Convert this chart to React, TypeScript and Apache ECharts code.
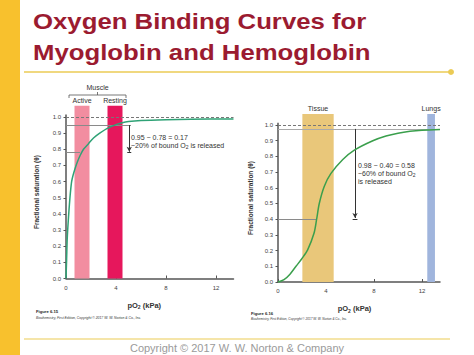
import React, { useEffect, useRef } from "react";
import * as echarts from "echarts";

// ---- data ----
const xTickValues = [0, 4, 8, 12];
const yTickValues = [0, 0.1, 0.2, 0.3, 0.4, 0.5, 0.6, 0.7, 0.8, 0.9, 1.0];

const myoglobinCurve: [number, number][] = [
  [0, 0], [0.05, 0.12], [0.1, 0.25], [0.2, 0.38], [0.27, 0.455], [0.35, 0.53],
  [0.45, 0.6], [0.55, 0.635], [0.72, 0.68], [0.9, 0.72], [1.12, 0.76], [1.4, 0.8],
  [1.8, 0.835], [2.2, 0.87], [2.7, 0.9], [3.3, 0.93], [4, 0.953], [4.5, 0.965],
  [5, 0.972], [6, 0.978], [8, 0.983], [10, 0.986], [13.4, 0.988],
];

const hemoglobinCurve: [number, number][] = [
  [0, 0], [0.5, 0.015], [1, 0.05], [1.5, 0.1], [2, 0.15], [2.47, 0.205], [3, 0.31],
  [3.22, 0.4], [3.44, 0.5], [3.86, 0.61], [4.4, 0.69], [5.4, 0.78], [6.36, 0.84],
  [7.9, 0.9], [9, 0.93], [10, 0.948], [11, 0.96], [12, 0.967], [13.5, 0.972],
];

const activeRange = [0.68, 1.88];
const restingRange = [3.32, 4.52];
const tissueRange = [2.03, 4.64];
const lungsRange = [12.44, 13.08];
const barTop = 1.07;

const myoHigh = 0.95;
const myoLow = 0.78;
const myoArrowX = 5.06;
const myoLowX = 1.12;

const hbHigh = 0.975;
const hbLow = 0.4;
const hbArrowX = 6.42;
const hbLowX = 3.22;

const axisColor = "#555";
const refColor = "#8a8a8a";
const FONT = "Liberation Sans";

function App() {
  const ref = useRef<HTMLDivElement>(null);
  useEffect(() => {
    if (!ref.current) return;
    const chart = echarts.init(ref.current, null, { renderer: "svg" });

    const xAxisBase = (max: number, nameShift: number) => ({
      type: "value",
      min: 0,
      max,
      name: "pO{sub|2} (kPa)",
      nameLocation: "middle",
      nameGap: 22,
      nameTextStyle: {
        fontFamily: FONT,
        fontWeight: "bold",
        fontSize: 7.5,
        color: "#333",
        padding: [0, nameShift, 0, 0],
        rich: { sub: { fontSize: 5, fontWeight: "bold", verticalAlign: "bottom", padding: [4, 0, 0, 0] } },
      },
      splitLine: { show: false },
      axisLine: { show: true, lineStyle: { color: axisColor, width: 1.5 } },
      axisTick: { show: true, inside: true, length: 3, customValues: xTickValues, lineStyle: { color: axisColor } },
      axisLabel: { customValues: xTickValues, fontFamily: FONT, fontSize: 6, color: "#444", margin: 6 },
    });
    const yAxisBase = (gap: number) => ({
      type: "value",
      min: 0,
      max: barTop,
      name: "Fractional saturation (θ)",
      nameLocation: "middle",
      nameGap: gap,
      nameTextStyle: { fontFamily: FONT, fontWeight: "bold", fontSize: 6.5, color: "#333" },
      splitLine: { show: false },
      axisLine: { show: false },
      axisTick: { show: true, length: 2.5, customValues: yTickValues, lineStyle: { color: axisColor } },
      axisLabel: {
        customValues: yTickValues,
        fontFamily: FONT,
        fontSize: 6,
        color: "#444",
        margin: 5,
        formatter: (v: number) => v.toFixed(1),
      },
    });

    const hLine = (x0: number, x1: number, y: number, dashed = false, color = refColor) => [
      { coord: [x0, y], symbol: "none", lineStyle: { color, width: 1, type: dashed ? [3, 2] : "solid" } },
      { coord: [x1, y], symbol: "none" },
    ];
    const arrowLine = (x: number, y0: number, y1: number) => [
      { coord: [x, y0], symbol: "none", lineStyle: { color: "#333", width: 1, type: "solid" } },
      { coord: [x, y1], symbol: "arrow", symbolSize: [4, 5] },
    ];
    const axisYLine = (top: number) => [
      { coord: [0, 0], symbol: "none", lineStyle: { color: axisColor, width: 1.5, type: "solid" } },
      { coord: [0, top], symbol: "none" },
    ];

    const barLabel = (text: string) => ({
      name: text,
      label: { show: true, position: "top", distance: 2, formatter: text, fontFamily: FONT, fontSize: 7, color: "#333" },
    });

    chart.setOption({
      animation: false,
      backgroundColor: "#fff",
      grid: [
        { left: 66, top: 105.7, width: 167.5, height: 172.8 },
        { left: 278, top: 114, width: 162, height: 168 },
      ],
      xAxis: [
        { ...xAxisBase(13.4, 11), gridIndex: 0 },
        { ...xAxisBase(13.5, 9), gridIndex: 1 },
      ],
      yAxis: [
        { ...yAxisBase(26), gridIndex: 0 },
        { ...yAxisBase(24), gridIndex: 1 },
      ],
      series: [
        {
          type: "line",
          xAxisIndex: 0,
          yAxisIndex: 0,
          data: myoglobinCurve,
          showSymbol: false,
          smooth: 0.3,
          clip: false,
          z: 5,
          lineStyle: { color: "#2fa276", width: 1.5 },
          markArea: {
            silent: true,
            data: [
              [{ ...barLabel("Active"), coord: [activeRange[0], 0], itemStyle: { color: "#f28da0", opacity: 1 } }, { coord: [activeRange[1], barTop] }],
              [{ ...barLabel("Resting"), coord: [restingRange[0], 0], itemStyle: { color: "#e6175c", opacity: 1 } }, { coord: [restingRange[1], barTop] }],
            ],
          },
          markLine: {
            silent: true,
            animation: false,
            label: { show: false },
            data: [
              axisYLine(1.015),
              hLine(0, 13.4, 1.0, true, "#777"),
              hLine(0, 5.2, myoHigh),
              hLine(0, myoLowX, myoLow),
              hLine(4.9, 5.22, myoLow, false, "#333"),
              arrowLine(myoArrowX, myoHigh, myoLow + 0.005),
            ],
          },
        },
        {
          type: "line",
          xAxisIndex: 1,
          yAxisIndex: 1,
          data: hemoglobinCurve,
          showSymbol: false,
          smooth: 0.3,
          clip: false,
          z: 5,
          lineStyle: { color: "#3a9f4c", width: 1.5 },
          markArea: {
            silent: true,
            data: [
              [{ ...barLabel("Tissue"), coord: [tissueRange[0], 0], itemStyle: { color: "#e9c77a", opacity: 1 } }, { coord: [tissueRange[1], barTop] }],
              [{ ...barLabel("Lungs"), coord: [lungsRange[0], 0], itemStyle: { color: "#a0b5dd", opacity: 1 } }, { coord: [lungsRange[1], barTop] }],
            ],
          },
          markLine: {
            silent: true,
            animation: false,
            label: { show: false },
            data: [
              axisYLine(1.015),
              hLine(0, 13.5, 1.0, true, "#777"),
              hLine(0, 13.5, hbHigh, false, "#aaa"),
              hLine(0, hbLowX, hbLow),
              hLine(6.22, 6.62, hbLow, false, "#333"),
              arrowLine(hbArrowX, hbHigh, hbLow + 0.008),
            ],
          },
        },
      ],
      graphic: [
        { type: "rect", shape: { x: 0, y: 0, width: 20, height: 355 }, style: { fill: "#f8c12d" } },
        { type: "line", shape: { x1: 24, y1: 72, x2: 450, y2: 72 }, style: { stroke: "#ebcb55", lineWidth: 1.5 } },
        { type: "circle", shape: { cx: 451, cy: 72, r: 3 }, style: { fill: "#ebcb55" } },
        { type: "line", shape: { x1: 24, y1: 339, x2: 450, y2: 339 }, style: { stroke: "#ebcb55", lineWidth: 1.2 } },
        {
          type: "text", x: 33, y: 21, scaleX: 1.12,
          style: { text: "Oxygen Binding Curves for", font: `bold 23px "${FONT}"`, fill: "#9b1b30", verticalAlign: "middle" },
        },
        {
          type: "text", x: 33, y: 52, scaleX: 1.12,
          style: { text: "Myoglobin and Hemoglobin", font: `bold 23px "${FONT}"`, fill: "#9b1b30", verticalAlign: "middle" },
        },
        {
          type: "text", x: 237, y: 348,
          style: { text: "Copyright © 2017 W. W. Norton & Company", font: `11px "${FONT}"`, fill: "#9a9a9a", align: "center", verticalAlign: "middle" },
        },
        // Muscle bracket
        { type: "polyline", shape: { points: [[69, 98], [69, 95], [126, 95], [126, 98]] }, style: { stroke: "#555", lineWidth: 0.8, fill: null } },
        { type: "line", shape: { x1: 97.5, y1: 95, x2: 97.5, y2: 92 }, style: { stroke: "#555", lineWidth: 0.8 } },
        { type: "text", x: 97.5, y: 87, style: { text: "Muscle", font: `7px "${FONT}"`, fill: "#333", align: "center", verticalAlign: "middle" } },
        // annotations
        {
          type: "text", x: 131, y: 133,
          style: {
            text: "0.95 − 0.78 = 0.17\n~20% of bound O{sub|2} is released",
            font: `7px "${FONT}"`, fill: "#333", lineHeight: 8,
            rich: { sub: { fontSize: 5, verticalAlign: "bottom", fontFamily: FONT, padding: [3, 0, 0, 0] } },
          },
        },
        {
          type: "text", x: 358, y: 162,
          style: {
            text: "0.98 − 0.40 = 0.58\n~60% of bound O{sub|2}\nis released",
            font: `7px "${FONT}"`, fill: "#333", lineHeight: 7.6,
            rich: { sub: { fontSize: 5, verticalAlign: "bottom", fontFamily: FONT, padding: [3, 0, 0, 0] } },
          },
        },
        // figure captions
        { type: "text", x: 36, y: 309.5, style: { text: "Figure 6.15", font: `bold 4.2px "${FONT}"`, fill: "#222" } },
        { type: "text", x: 36, y: 316.5, style: { text: "Biochemistry, First Edition, Copyright © 2017 W. W. Norton & Co., Inc.", font: `italic 3.4px "${FONT}"`, fill: "#333" } },
        { type: "text", x: 251, y: 311, style: { text: "Figure 6.16", font: `bold 4.2px "${FONT}"`, fill: "#222" } },
        { type: "text", x: 251, y: 317, style: { text: "Biochemistry, First Edition, Copyright © 2017 W. W. Norton & Co., Inc.", font: `italic 3.1px "${FONT}"`, fill: "#333" } },
      ],
    });
    return () => chart.dispose();
  }, []);
  return <div ref={ref} style={{ position: "fixed", left: 0, top: 0, width: 474, height: 355 }} />;
}

export default App;
